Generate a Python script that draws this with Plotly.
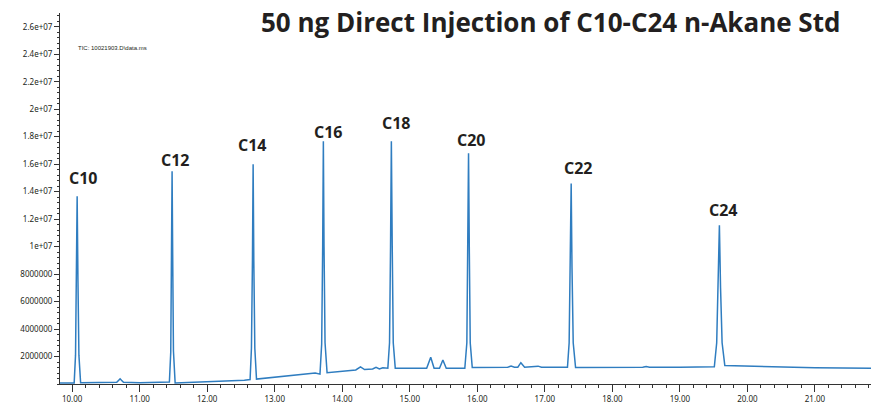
import plotly.graph_objects as go

# ---- data (retention time in min, abundance in millions of counts) ----
time_min = [
    9.82, 10.00, 10.03, 10.05, 10.062, 10.074, 10.086, 10.10, 10.125,
    10.40, 10.66, 10.69, 10.71, 10.73, 10.76, 11.00, 11.30,
    11.44, 11.46, 11.47, 11.48, 11.49, 11.50, 11.525,
    11.80, 12.00, 12.30, 12.55,
    12.635, 12.655, 12.67, 12.68, 12.69, 12.705, 12.73,
    13.00, 13.30, 13.60,
    13.67, 13.695, 13.71, 13.72, 13.73, 13.745, 13.775,
    14.00, 14.20, 14.27, 14.33, 14.45, 14.50, 14.55, 14.60,
    14.675, 14.70, 14.715, 14.727, 14.74, 14.755, 14.785,
    15.00, 15.25, 15.31, 15.36, 15.44, 15.49, 15.54,
    15.815, 15.845, 15.858, 15.87, 15.882, 15.895, 15.925,
    16.20, 16.45, 16.50, 16.55, 16.60, 16.645, 16.70, 16.85, 16.90, 16.95,
    17.335, 17.36, 17.378, 17.39, 17.402, 17.42, 17.455,
    18.00, 18.45, 18.50, 18.55, 19.00,
    19.51, 19.545, 19.568, 19.585, 19.602, 19.625, 19.665,
    20.00, 20.50, 21.00, 21.83,
]
intensity_millions = [
    0.08, 0.08, 0.08, 2.1, 7.5, 13.67, 7.5, 2.1, 0.10,
    0.12, 0.12, 0.28, 0.38, 0.28, 0.12, 0.10, 0.12,
    0.14, 2.3, 8.5, 15.49, 8.5, 2.4, 0.08,
    0.12, 0.15, 0.20, 0.28,
    0.32, 2.6, 9.0, 16.0, 9.0, 2.6, 0.36,
    0.50, 0.65, 0.80,
    0.72, 2.9, 10.0, 17.67, 10.0, 3.0, 0.82,
    0.92, 1.02, 1.25, 1.05, 1.10, 1.22, 1.10, 1.18,
    1.15, 3.0, 10.0, 17.67, 10.0, 3.0, 1.15,
    1.15, 1.15, 1.95, 1.15, 1.15, 1.75, 1.15,
    1.15, 3.0, 9.5, 16.8, 9.5, 3.0, 1.20,
    1.20, 1.22, 1.30, 1.22, 1.22, 1.55, 1.22, 1.25, 1.30, 1.22,
    1.22, 3.0, 8.5, 14.6, 8.5, 3.0, 1.20,
    1.20, 1.22, 1.28, 1.22, 1.22,
    1.25, 3.0, 7.0, 11.56, 7.0, 3.0, 1.35,
    1.30, 1.25, 1.18, 1.15,
]

peak_names = ["C10", "C12", "C14", "C16", "C18", "C20", "C22", "C24"]
peak_times = [10.074, 11.48, 12.68, 13.72, 14.727, 15.87, 17.39, 19.585]
peak_heights_millions = [13.67, 15.49, 16.0, 17.67, 17.67, 16.8, 14.6, 11.56]

y_tick_values = [2e6, 4e6, 6e6, 8e6, 1e7, 1.2e7, 1.4e7, 1.6e7, 1.8e7,
                 2e7, 2.2e7, 2.4e7, 2.6e7]
y_tick_labels = ["2000000", "4000000", "6000000", "8000000", "1e+07",
                 "1.2e+07", "1.4e+07", "1.6e+07", "1.8e+07", "2e+07",
                 "2.2e+07", "2.4e+07", "2.6e+07"]
x_tick_values = [10, 11, 12, 13, 14, 15, 16, 17, 18, 19, 20, 21]
x_tick_labels = ["10.00", "11.00", "12.00", "13.00", "14.00", "15.00",
                 "16.00", "17.00", "18.00", "19.00", "20.00", "21.00"]

title_text = "50 ng Direct Injection of C10-C24 n-Akane Std"
tic_text = "TIC: 10021903.D\\data.ms"

# ---- figure ----
W, H = 873, 406
ML, MR, MT, MB = 60, 2, 13, 22
plot_w = W - ML - MR
plot_h = H - MT - MB

intensity = [v * 1e6 for v in intensity_millions]
peak_heights = [v * 1e6 for v in peak_heights_millions]

fig = go.Figure()
fig.add_trace(go.Scatter(
    x=time_min, y=intensity, mode="lines",
    line=dict(color="#2f7dc0", width=1.5),
    hoverinfo="skip", showlegend=False,
))

label_dx = [6, 3, -1, 5, 5, 3, 7, 4]
label_dy = [18, 11, 19, 9, 18, 13, 15, 15]
for name, t, h, dx, dy in zip(peak_names, peak_times, peak_heights, label_dx, label_dy):
    fig.add_annotation(
        x=t, y=h, text="<b>" + name + "</b>", showarrow=False,
        xanchor="center", yanchor="middle", xshift=dx, yshift=dy,
        font=dict(family="Open Sans", size=16, color="#231f20"),
    )

fig.add_annotation(
    x=(550 - ML) / plot_w, y=(H - MB - 22) / plot_h,
    xref="paper", yref="paper", text="<b>" + title_text + "</b>",
    showarrow=False, xanchor="center", yanchor="middle",
    font=dict(family="Open Sans", size=26, color="#231f20"),
)
fig.add_annotation(
    x=(76 - ML) / plot_w, y=(H - MB - 48) / plot_h,
    xref="paper", yref="paper", text=tic_text, showarrow=False,
    xanchor="left", yanchor="middle",
    font=dict(family="Liberation Sans", size=6, color="#231f20"),
)

fig.update_layout(
    width=W, height=H,
    margin=dict(l=ML, r=MR, t=MT, b=MB),
    paper_bgcolor="white", plot_bgcolor="white",
    xaxis=dict(
        range=[9.82, 21.83], tickvals=x_tick_values, ticktext=x_tick_labels,
        ticks="outside", ticklen=7, tickwidth=1, tickcolor="#333333",
        showline=True, linecolor="#333333", linewidth=1,
        showgrid=False, zeroline=False, automargin=False,
        tickfont=dict(family="Noto Sans", size=8, color="#231f20"),
        minor=dict(dtick=0.2, tick0=10, ticks="outside", ticklen=3,
                   tickcolor="#333333", showgrid=False),
    ),
    yaxis=dict(
        range=[0, 2.7e7], tickvals=y_tick_values, ticktext=y_tick_labels,
        ticks="outside", ticklen=5, tickwidth=1, tickcolor="#333333",
        showline=True, linecolor="#333333", linewidth=1,
        showgrid=False, zeroline=False, automargin=False,
        tickfont=dict(family="Noto Sans", size=8, color="#231f20"),
        minor=dict(dtick=4e5, tick0=0, ticks="outside", ticklen=2,
                   tickcolor="#333333", showgrid=False),
    ),
)

fig.write_html(
    "out.html",
    config={"displayModeBar": False},
    post_script="document.body.style.margin='0';document.body.style.overflow='hidden';",
)
